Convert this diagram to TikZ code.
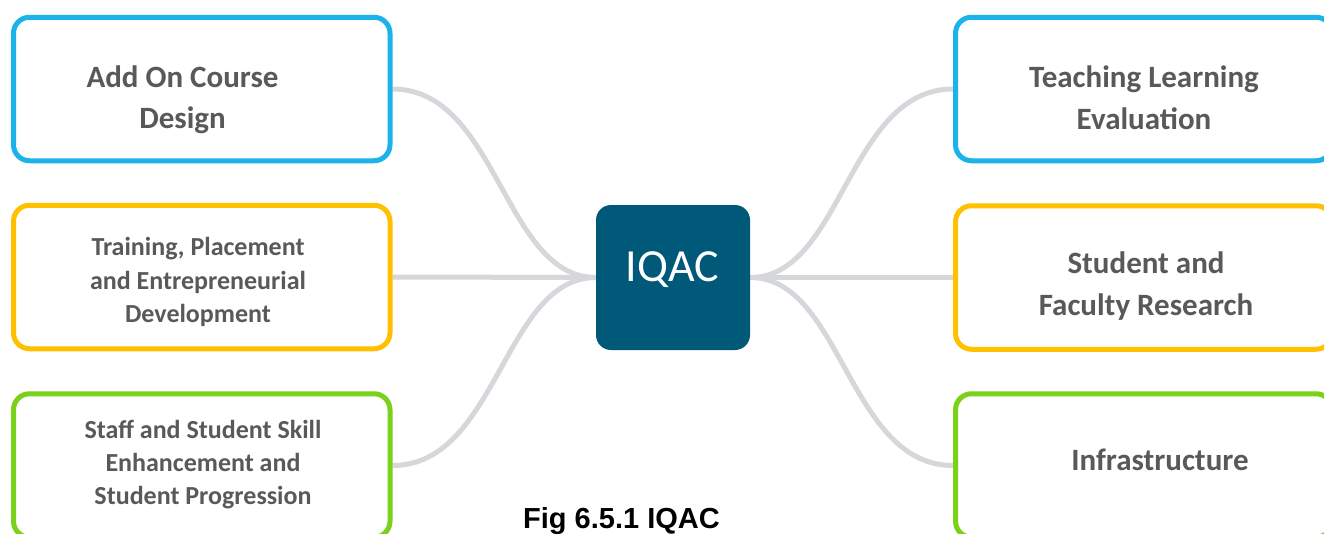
\documentclass[tikz,border=0pt]{standalone}
\usepackage{fontspec}
\setmainfont{Carlito}
\newfontfamily\capfont{Liberation Sans}
\usetikzlibrary{backgrounds}
\definecolor{cblue}{RGB}{27,179,234}
\definecolor{corange}{RGB}{255,192,0}
\definecolor{cgreen}{RGB}{122,209,26}
\definecolor{ccenter}{RGB}{0,89,120}
\definecolor{cconn}{RGB}{214,215,219}
\definecolor{ctext}{RGB}{89,89,89}
\tikzset{
  topic/.style={draw=#1, rectangle, rounded corners=16pt, line width=5pt,
    minimum width=376.5pt, minimum height=143.5pt, inner sep=0pt, fill=white},
  hub/.style={rectangle, rounded corners=15pt, fill=ccenter,
    minimum width=154pt, minimum height=145pt, inner sep=0pt},
  lblbig/.style={anchor=base, inner sep=0pt, text=ctext,
    font=\fontsize{31}{37}\selectfont\bfseries},
  lblsmall/.style={anchor=base, inner sep=0pt, text=ctext,
    font=\fontsize{26}{31}\selectfont\bfseries},
  conn/.style={draw=cconn, line width=5pt}
}
\begin{document}
\begin{tikzpicture}[x=1pt,y=-1pt]
\useasboundingbox (0,0) rectangle (1324,533);
% boxes
\node[topic=cblue]   (tl) at (201.75,89) {};
\node[topic=corange] (ml) at (201.75,277) {};
\node[topic=cgreen]  (bl) at (201.75,465.5) {};
\node[topic=cblue]   (tr) at (1143.75,89) {};
\node[topic=corange] (mr) at (1143.75,277.5) {};
\node[topic=cgreen]  (br) at (1143.75,465.5) {};
\node[hub] (c) at (673,277.5) {};
% connectors
\begin{pgfonlayer}{background}
\draw[conn] (tl.east) .. controls +(105,0) and +(-92,0) .. (c.west);
\draw[conn] (ml.east) -- (c.west);
\draw[conn] (bl.east) .. controls +(105,0) and +(-92,0) .. (c.west);
\draw[conn] (tr.west) .. controls +(-105,0) and +(92,0) .. (c.east);
\draw[conn] (mr.west) -- (c.east);
\draw[conn] (br.west) .. controls +(-105,0) and +(92,0) .. (c.east);
\end{pgfonlayer}
% labels
\node[lblbig] (tl1) at (182.5,87) {Add On Course};
\node[lblbig] (tl2) at (182.5,128) {Design};
\node[lblsmall] (ml1) at (198,255) {Training, Placement};
\node[lblsmall] (ml2) at (198,289) {and Entrepreneurial};
\node[lblsmall] (ml3) at (198,322) {Development};
\node[lblsmall] (bl1) at (203,438) {Staff and Student Skill};
\node[lblsmall] (bl2) at (203,471) {Enhancement and};
\node[lblsmall] (bl3) at (203,504) {Student Progression};
\node[lblbig] (tr1) at (1144,87) {Teaching Learning};
\node[lblbig] (tr2) at (1144,129) {Evaluation};
\node[lblbig] (mr1) at (1146,273) {Student and};
\node[lblbig] (mr2) at (1146,315) {Faculty Research};
\node[lblbig] (br1) at (1160,470) {Infrastructure};
\node[anchor=base, inner sep=0pt, text=white, font=\fontsize{46}{50}\selectfont] (ct) at (672.5,281) {IQAC};
\node[anchor=base, inner sep=0pt, text=black, font=\capfont\fontsize{29}{32}\selectfont\bfseries] (cap) at (621.5,528) {Fig 6.5.1 IQAC};
\end{tikzpicture}
\end{document}
